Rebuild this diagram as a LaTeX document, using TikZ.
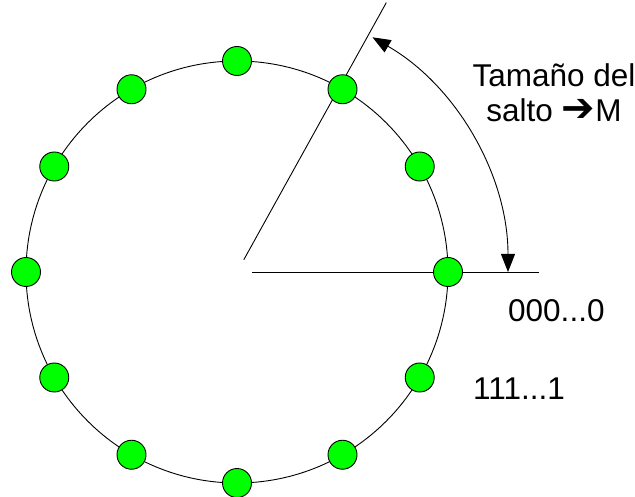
\documentclass[tikz,border=0pt]{standalone}
\usepackage{fontspec}
\setmainfont{Liberation Sans}
\newfontfamily\symfont{DejaVu Sans}
\usetikzlibrary{arrows.meta}

\begin{document}
\begin{tikzpicture}[
    x=1pt, y=1pt,
    font=\fontsize{31.5}{35}\selectfont,
    ring/.style={draw=black, line width=0.9pt},
    peer/.style={circle, draw=black, line width=0.9pt, fill=green, minimum size=29pt, inner sep=0pt},
    axis/.style={draw=black, line width=0.9pt},
    lbl/.style={inner sep=0pt, align=center},
    jump/.style={{Triangle[length=18pt,width=14pt]}-{Triangle[length=18pt,width=14pt]}, line width=0.9pt},
  ]
  \useasboundingbox (0,0) rectangle (635,496);
  \coordinate (c) at (237,224);
  \draw[ring] (c) circle (211);
  % reference lines
  \coordinate (h0) at (252,224);
  \coordinate (h1) at (539,224);
  \coordinate (s0) at ([shift={(61:14)}]c);
  \coordinate (s1) at ([shift={(61:308)}]c);
  \draw[axis] (h0) -- (h1);
  \draw[axis] (s0) -- (s1);
  \foreach \i in {0,...,11}{
    \node[peer] (p\i) at ([shift={(\i*30:211)}]c) {};
  }
  % jump size
  \coordinate (a0) at ([shift={(60:271)}]c);
  \draw[jump] (a0) arc[start angle=60, end angle=0, radius=271];
  \node[lbl, anchor=base] (salto) at (554,374) {Tamaño del\\salto {\symfont\bfseries\fontsize{40}{35}\selectfont ➔}M};
  \node[lbl, anchor=base west] (cero) at (508,174) {000...0};
  \node[lbl, anchor=base west] (uno) at (473,96) {111...1};
\end{tikzpicture}
\end{document}
